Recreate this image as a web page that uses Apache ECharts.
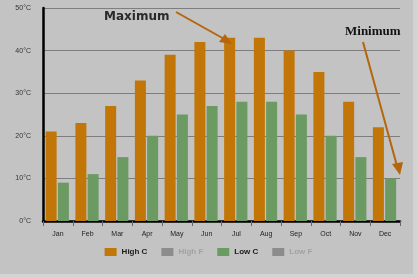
<!DOCTYPE html>
<html>
<head>
<meta charset="UTF-8">
<title>Monthly temperatures</title>
<script src="https://cdn.jsdelivr.net/npm/echarts@6/dist/echarts.min.js"></script>
<style>
  html, body { margin: 0; padding: 0; background: #d3d3d3; }
  #chart { width: 417px; height: 278px; }
</style>
</head>
<body>
<div id="chart"></div>
<script>
// data
const months = ['Jan', 'Feb', 'Mar', 'Apr', 'May', 'Jun', 'Jul', 'Aug', 'Sep', 'Oct', 'Nov', 'Dec'];
const highC = [21, 23, 27, 33, 39, 42, 43, 43, 40, 35, 28, 22];
const lowC = [9, 11, 15, 20, 25, 27, 28, 28, 25, 20, 15, 10];
const legendNames = ['High C', 'High F', 'Low C', 'Low F'];

const chart = echarts.init(document.getElementById('chart'));

const dim = { textStyle: { color: '#a2a2a2' } };

chart.setOption({
  backgroundColor: 'transparent',
  animation: false,
  grid: { left: 43, right: 17, top: 8, bottom: 57 },
  legend: {
    bottom: 17,
    left: 'center',
    itemWidth: 12,
    itemHeight: 8,
    itemGap: 14,
    icon: 'rect',
    textStyle: { fontFamily: 'Liberation Sans', fontSize: 8, fontWeight: 'bold', color: '#1a1a1a' },
    data: [
      { name: legendNames[0] },
      { name: legendNames[1], textStyle: dim.textStyle },
      { name: legendNames[2] },
      { name: legendNames[3], textStyle: dim.textStyle }
    ]
  },
  xAxis: {
    type: 'category',
    data: months,
    axisLine: { lineStyle: { color: '#000', width: 2.5 } },
    axisTick: { show: true, length: 5, lineStyle: { color: '#666' } },
    axisLabel: { color: '#222', fontSize: 7, fontFamily: 'Liberation Sans', margin: 10 }
  },
  yAxis: {
    type: 'value',
    min: 0,
    max: 50,
    interval: 10,
    axisLine: { show: true, lineStyle: { color: '#000', width: 2.5 } },
    axisLabel: { color: '#333', fontSize: 7, fontFamily: 'Liberation Sans', margin: 12, formatter: '{value}°C' },
    splitLine: { lineStyle: { color: '#7e7e7e', width: 1 } }
  },
  series: [
    { name: legendNames[0], type: 'bar', data: highC, barWidth: 11, barGap: '2%', itemStyle: { color: '#c27608' } },
    { name: legendNames[1], type: 'bar', data: [], itemStyle: { color: '#8c8c8c' } },
    { name: legendNames[2], type: 'bar', data: lowC, barWidth: 11, barGap: '2%', itemStyle: { color: '#6b9a62' } },
    { name: legendNames[3], type: 'bar', data: [], itemStyle: { color: '#8c8c8c' } }
  ],
  graphic: [
    // chart frame
    { type: 'rect', z: -10, shape: { x: 0, y: 0, width: 413, height: 274 }, style: { fill: '#c3c3c3' } },
    // annotations
    { type: 'text', left: 104, top: 11, z: 10,
      style: { text: 'Maximum', fontFamily: 'DejaVu Sans', fontWeight: 'bold', fontSize: 12, fill: '#2a2a2a',
               shadowColor: 'rgba(0,0,0,0.35)', shadowBlur: 2, shadowOffsetY: 1 } },
    { type: 'line', z: 10, shape: { x1: 176, y1: 12, x2: 226, y2: 40 },
      style: { stroke: '#b5650a', lineWidth: 2 } },
    { type: 'polygon', z: 10, shape: { points: [[232, 44], [219, 42], [225, 34]] },
      style: { fill: '#b5650a' } },
    { type: 'text', left: 345, top: 25, z: 10,
      style: { text: 'Minimum', fontFamily: 'Liberation Serif', fontWeight: 'bold', fontSize: 13, fill: '#111' } },
    { type: 'line', z: 10, shape: { x1: 363, y1: 42, x2: 397, y2: 166 },
      style: { stroke: '#b5650a', lineWidth: 2 } },
    { type: 'polygon', z: 10, shape: { points: [[400, 175], [392, 164], [403, 162]] },
      style: { fill: '#b5650a' } }
  ]
});
</script>
</body>
</html>
